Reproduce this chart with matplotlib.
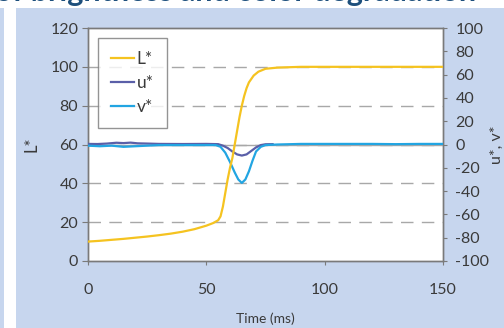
import matplotlib
matplotlib.use("Agg")
import matplotlib.pyplot as plt
from matplotlib.patches import Rectangle

# L* lightness over time
t_L = [0, 5, 10, 15, 20, 25, 30, 35, 40, 45, 50, 53, 55, 56, 57, 58, 59, 60, 61, 62, 63,
       64, 65, 66, 67, 68, 70, 72, 75, 80, 90, 100, 120, 150]
L = [10, 10.4, 10.9, 11.4, 12, 12.6, 13.3, 14.1, 15.1, 16.4, 18.2, 19.6, 21, 23, 28, 35, 42,
     48, 53, 60, 67, 74, 80, 85, 89, 92, 95.5, 97.5, 99, 99.6, 100, 100, 100, 100]

# u* (right axis)
t_u = [0, 4, 8, 12, 15, 18, 21, 25, 30, 40, 50, 55, 57, 59, 61, 63, 65, 67, 69, 71, 73, 75, 78]
u = [0.5, 0.4, 0.8, 1.5, 1.2, 1.6, 1.0, 0.8, 0.5, 0.4, 0.5, 0.3, -1, -3, -6, -8.5, -9.5,
     -8.5, -5.5, -2.5, -0.5, 0.2, 0.3]

# v* (right axis)
t_v = [0, 5, 10, 15, 20, 25, 30, 40, 50, 54, 56, 58, 60, 62, 63.5, 65, 66.5, 68, 69.5, 71,
       73, 75, 80, 90, 100, 110, 120, 130, 140, 150]
v = [-1, -1.5, -1, -2, -1.5, -1, -0.5, -0.5, -0.5, -0.5, -2, -7, -15, -24, -30, -33, -30,
     -23, -14, -6, -2, -0.5, 0, 0.5, 0.5, 0.5, 0.5, 0.3, 0.5, 0.5]

left_ticks = [0, 20, 40, 60, 80, 100, 120]
right_ticks = [-100, -80, -60, -40, -20, 0, 20, 40, 60, 80, 100]
x_ticks = [0, 50, 100, 150]

plt.rcParams["font.family"] = ["Lato", "DejaVu Sans"]
plt.rcParams["axes.unicode_minus"] = False
txt = "#3a3a3a"
panel = "#c7d6ee"

fig = plt.figure(figsize=(5.04, 3.28), dpi=100, facecolor="white")
fig.patches.append(Rectangle((16 / 504, 0), 1, 1 - 8 / 328, transform=fig.transFigure,
                             facecolor=panel, edgecolor="none", zorder=-10))
fig.patches.append(Rectangle((0, 0), 4 / 504, 1 - 8 / 328, transform=fig.transFigure,
                             facecolor=panel, edgecolor="none", zorder=-10))
# page title, mostly cut off at the top edge as in the source
fig.text(-0.01, 1 - 1.5 / 328, "of brightness and color degradation", fontsize=22,
         fontweight="bold", color="#1d4f7c", va="baseline", ha="left", zorder=-5)

ax = fig.add_axes([88 / 504, 1 - 261 / 328, (443 - 88) / 504, (261 - 28) / 328])
ax.set_facecolor("white")
ax.set_xlim(0, 150)
ax.set_ylim(0, 120)
ax.set_xticks(x_ticks)
ax.set_yticks(left_ticks)
for y in [20, 40, 60, 80, 100]:
    ax.axhline(y, color="#a8a8a8", lw=1.0, ls=(0, (9, 6)), zorder=1)

ax2 = ax.twinx()
ax2.set_ylim(-100, 100)
ax2.set_yticks(right_ticks)
ax2.axhline(0, color="#a8a8a8", lw=1.0, zorder=1)

lu, = ax2.plot(t_u, u, color="#5a5fa8", lw=1.6, label="u*", zorder=3)
lv, = ax2.plot(t_v, v, color="#22a5e2", lw=1.6, label="v*", zorder=4)
lL, = ax2.plot([], [], color="#f5c320", lw=1.6, label="L*")
ax2.plot(t_L, [(l - 60) * 200 / 120 for l in L], color="#f5c320", lw=1.6, zorder=5)

for a in (ax, ax2):
    for s in a.spines.values():
        s.set_color("#7a7a7a")
        s.set_linewidth(1.0)
ax.tick_params(axis="y", direction="out", length=4, color="#7a7a7a", labelsize=11.5,
               labelcolor=txt, pad=3)
ax.tick_params(axis="x", direction="out", length=3, color="#7a7a7a", labelsize=11.5,
               labelcolor=txt, pad=13)
ax2.tick_params(axis="y", direction="out", length=3, color="#7a7a7a", labelsize=11.5,
                labelcolor=txt, pad=6)

ax.set_xlabel("Time (ms)", fontsize=10, color=txt, labelpad=11)
ax.set_ylabel("L*", fontsize=12, color=txt, labelpad=8)
ax2.set_ylabel("u*, v*", fontsize=11.5, color=txt, labelpad=0)

leg = ax2.legend(handles=[lL, lu, lv], loc="upper left", fontsize=12.5, frameon=True,
                 fancybox=False, edgecolor="#7a7a7a", handlelength=1.3,
                 handletextpad=0.15, borderaxespad=0.6, labelspacing=0.45, borderpad=0.75)
leg.get_frame().set_linewidth(1.0)
for tx in leg.get_texts():
    tx.set_color(txt)

fig.savefig("out.png", dpi=100, facecolor="white")
